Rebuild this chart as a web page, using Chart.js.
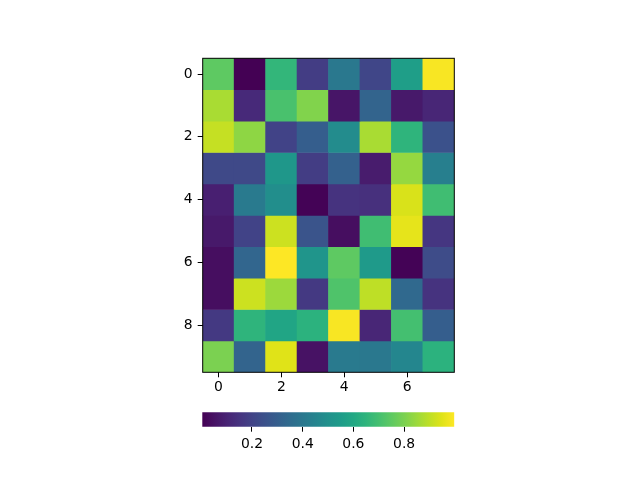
<!DOCTYPE html>
<html>
<head>
<meta charset="utf-8">
<script src="https://cdn.jsdelivr.net/npm/chart.js@4/dist/chart.umd.min.js"></script>
<style>
  html, body { margin: 0; padding: 0; background: #ffffff; }
  #wrap { position: relative; width: 640px; height: 480px; }
  canvas { position: absolute; left: 0; top: 0; }
</style>
</head>
<body>
<div id="wrap">
  <canvas id="heat" width="640" height="480"></canvas>
  <canvas id="cbar" width="640" height="480"></canvas>
</div>
<script>
// ---- data (rows 0..9, columns 0..7) ----
const columns = [0, 1, 2, 3, 4, 5, 6, 7];
const rows = [0, 1, 2, 3, 4, 5, 6, 7, 8, 9];
const row0 = [0.75, 0.004, 0.66, 0.18, 0.40, 0.21, 0.56, 0.99];
const row1 = [0.87, 0.12, 0.71, 0.81, 0.06, 0.32, 0.07, 0.11];
const row2 = [0.91, 0.83, 0.20, 0.30, 0.48, 0.87, 0.65, 0.25];
const row3 = [0.22, 0.22, 0.53, 0.18, 0.31, 0.08, 0.84, 0.43];
const row4 = [0.09, 0.41, 0.49, 0.01, 0.15, 0.14, 0.94, 0.69];
const row5 = [0.07, 0.20, 0.92, 0.26, 0.04, 0.69, 0.96, 0.16];
const row6 = [0.04, 0.33, 0.998, 0.52, 0.75, 0.54, 0.01, 0.23];
const row7 = [0.04, 0.92, 0.85, 0.17, 0.72, 0.90, 0.34, 0.15];
const row8 = [0.17, 0.65, 0.59, 0.64, 0.99, 0.11, 0.70, 0.30];
const row9 = [0.80, 0.32, 0.95, 0.05, 0.41, 0.40, 0.46, 0.64];
const values = [row0, row1, row2, row3, row4, row5, row6, row7, row8, row9];
const xTickLabels = [0, 2, 4, 6];
const yTickLabels = [0, 2, 4, 6, 8];
const cbarTickLabels = [0.2, 0.4, 0.6, 0.8];

// ---- viridis colormap ----
const viridisStops = ['#440154','#471365','#482475','#463480','#414487','#3b528b','#355f8d','#2f6c8e','#2a788e','#25848e','#21918c','#1e9c89','#22a884','#2fb47c','#44bf70','#5ec962','#7ad151','#9bd93c','#bddf26','#dfe318','#fde725'];
function hexToRgb(h) { return [parseInt(h.slice(1,3),16), parseInt(h.slice(3,5),16), parseInt(h.slice(5,7),16)]; }
function viridis(t) {
  t = Math.max(0, Math.min(1, t));
  const n = viridisStops.length - 1;
  const p = t * n;
  const i = Math.min(n - 1, Math.floor(p));
  const f = p - i;
  const a = hexToRgb(viridisStops[i]), b = hexToRgb(viridisStops[i + 1]);
  const c = a.map((v, k) => Math.round(v + (b[k] - v) * f));
  return 'rgb(' + c.join(',') + ')';
}
const allVals = values.flat();
const vmin = Math.min(...allVals);
const vmax = Math.max(...allVals);
const norm = v => (v - vmin) / (vmax - vmin);

const FONT = { family: 'DejaVu Sans', size: 13.9 };

const framePlugin = {
  id: 'frame',
  afterDatasetsDraw(chart) {
    const a = chart.chartArea, ctx = chart.ctx;
    ctx.save();
    ctx.strokeStyle = '#000';
    ctx.lineWidth = 1;
    ctx.strokeRect(a.left, a.top, a.right - a.left, a.bottom - a.top);
    ctx.restore();
  }
};

// ---- heatmap ----
const datasets = rows.map(r => ({
  data: columns.map(c => ({ x: c, y: [r - 0.5, r + 0.5] })),
  backgroundColor: values[r].map(v => viridis(norm(v))),
  borderWidth: 0,
  grouped: false,
  barPercentage: 1,
  categoryPercentage: 1
}));

new Chart(document.getElementById('heat'), {
  type: 'bar',
  data: { datasets },
  options: {
    responsive: false,
    animation: false,
    devicePixelRatio: 1,
    layout: { padding: { left: 162.7, right: 185.7, top: 58.3, bottom: 77.7 } },
    plugins: { legend: { display: false }, tooltip: { enabled: false } },
    scales: {
      x: {
        type: 'linear', min: -0.5, max: 7.5, offset: false,
        afterBuildTicks: s => { s.ticks = xTickLabels.map(v => ({ value: v })); },
        afterFit: s => { s.height = 30; },
        border: { display: false },
        grid: { drawOnChartArea: false, drawTicks: true, tickLength: 5, color: '#000', offset: false },
        ticks: { color: '#000', font: FONT, padding: 2, maxRotation: 0, autoSkip: false }
      },
      y: {
        type: 'linear', min: -0.5, max: 9.5, reverse: true,
        afterBuildTicks: s => { s.ticks = yTickLabels.map(v => ({ value: v })); },
        afterFit: s => { s.width = 40; },
        border: { display: false },
        grid: { drawOnChartArea: false, drawTicks: true, tickLength: 5, color: '#000' },
        ticks: { color: '#000', font: FONT, padding: 5, autoSkip: false }
      }
    }
  },
  plugins: [framePlugin]
});

// ---- colorbar ----
new Chart(document.getElementById('cbar'), {
  type: 'bar',
  data: {
    datasets: [{
      data: [{ y: 0, x: [vmin, vmax] }],
      backgroundColor: (ctx) => {
        const area = ctx.chart.chartArea;
        if (!area) return '#000';
        const g = ctx.chart.ctx.createLinearGradient(area.left, 0, area.right, 0);
        viridisStops.forEach((c, i) => g.addColorStop(i / (viridisStops.length - 1), c));
        return g;
      },
      borderWidth: 0,
      barPercentage: 1,
      categoryPercentage: 1
    }]
  },
  options: {
    indexAxis: 'y',
    responsive: false,
    animation: false,
    devicePixelRatio: 1,
    layout: { padding: { left: 202.3, right: 185.7, top: 412.3, bottom: 23.3 } },
    plugins: { legend: { display: false }, tooltip: { enabled: false } },
    scales: {
      x: {
        type: 'linear', min: vmin, max: vmax,
        afterBuildTicks: s => { s.ticks = cbarTickLabels.map(v => ({ value: v })); },
        afterFit: s => { s.height = 30; },
        border: { display: false },
        grid: { drawOnChartArea: false, drawTicks: true, tickLength: 5, color: '#000' },
        ticks: { color: '#000', font: FONT, padding: 4, maxRotation: 0, autoSkip: false,
                 callback: v => v.toFixed(1) }
      },
      y: {
        type: 'linear', min: -0.5, max: 0.5, display: false, offset: false
      }
    }
  }
});
</script>
</body>
</html>
